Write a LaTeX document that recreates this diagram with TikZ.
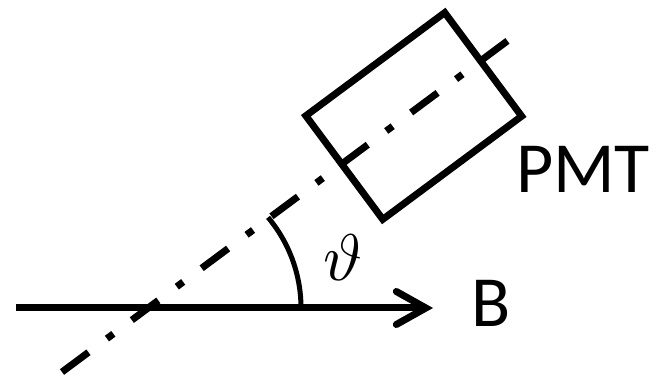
\documentclass[tikz,border=0pt]{standalone}
\usepackage{fontspec}
\usepackage{graphicx}
\setmainfont{Carlito}
\usetikzlibrary{arrows.meta}
\tikzset{
  thick line/.style={line width=7pt},
  pmtbox/.style={draw, thick line, line join=miter, minimum width=173pt, minimum height=129pt, inner sep=0pt, rotate=36.6},
  axisline/.style={thick line, dash pattern=on 33pt off 23pt on 8pt off 23pt},
  fieldarrow/.style={thick line, -{Straight Barb[length=29.5pt, width=33pt, line cap=round, line join=miter]}},
  anglearc/.style={line width=5pt},
  label/.style={inner sep=0pt, font=\fontsize{72}{80}\selectfont},
}
\begin{document}
\begin{tikzpicture}[x=1pt,y=1pt]
\useasboundingbox (0,0) rectangle (664,380);
% axis of the PMT
\coordinate (L1) at (62,8);
\coordinate (L2) at (510,341);
\draw[axisline] (L1) -- (L2);
% PMT box
\node[pmtbox] (pmt) at (413.75,264) {};
\node[label, anchor=base west] (pmtlabel) at (516,187) {PMT};
% B field arrow
\coordinate (A0) at (16,72);
\coordinate (A1) at (433,72);
\draw[fieldarrow] (A0) -- (A1);
\node[label, anchor=base west] (blabel) at (471,53) {B};
% angle arc
\coordinate (ArcStart) at (301,72);
\draw[anglearc] (ArcStart) arc[start angle=0, end angle=40, radius=141];
\node[inner sep=0pt] (theta) at (343,122) {\scalebox{6.6}{$\vartheta$}};
\end{tikzpicture}
\end{document}
